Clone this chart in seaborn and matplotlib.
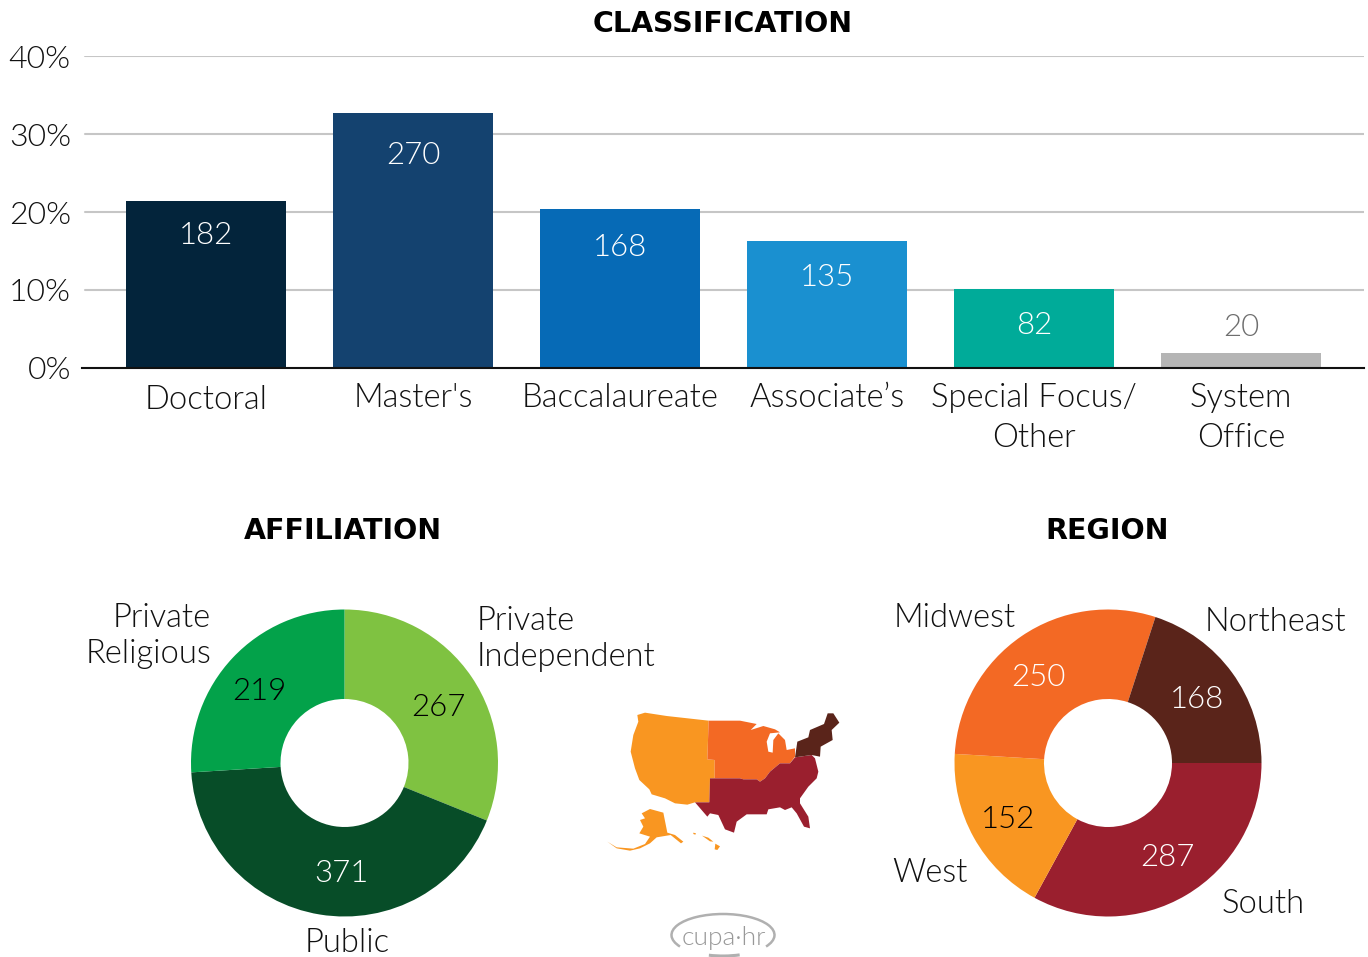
import matplotlib
matplotlib.use("Agg")
import matplotlib.pyplot as plt
from matplotlib.patches import Arc, Polygon
import pandas as pd
import seaborn as sns

# Chart values
class_labels = ["Doctoral", "Master's", "Baccalaureate", "Associate’s", "Special Focus/\nOther", "System\nOffice"]
class_pct = [21.4, 32.7, 20.4, 16.3, 10.1, 1.9]
class_counts = [182, 270, 168, 135, 82, 20]
class_colors = ["#03243B", "#14426F", "#066AB6", "#1A90D0", "#00AB99", "#B5B5B5"]
pct_ticks = [0, 10, 20, 30, 40]

# donut slices are measured in degrees from the picture, the counts are what is printed on them
aff_counts = [267, 371, 219]
aff_degrees = [112, 154.5, 93.5]
aff_colors = ["#7FC241", "#074D28", "#03A24A"]
aff_number_colors = ["black", "white", "black"]

region_counts = [287, 152, 250, 168]
region_degrees = [118.6, 64.8, 104.6, 72]
region_colors = ["#9A1F2E", "#F99621", "#F36924", "#5A241A"]
region_number_colors = ["white", "black", "white", "white"]

W, H = 1368, 957
FONT = "Lato"
TEXT = "#111111"
LABEL_SIZE = 23.6
NUMBER_SIZE = 22.5

# Map outlines (crop pixels, see to_px)
west = [(112, 45), (135, 38), (200, 48), (326, 62), (322, 178), (344, 180), (344, 235), (330, 235), (328, 307),
        (285, 307), (262, 314), (225, 310), (195, 295), (155, 283), (148, 268), (118, 240), (105, 205), (92, 155),
        (100, 105), (115, 65)]
midwest = [(326, 62), (420, 62), (470, 72), (452, 90), (490, 78), (525, 88), (540, 97), (510, 100), (500, 125),
           (505, 155), (518, 158), (520, 120), (535, 100), (555, 120), (560, 150), (585, 145), (585, 170), (570, 190),
           (540, 190), (510, 215), (495, 235), (480, 245), (470, 238), (430, 238), (420, 235), (344, 235), (344, 180),
           (322, 178)]
south = [(330, 235), (420, 235), (430, 238), (470, 238), (480, 245), (495, 235), (510, 215), (540, 190), (570, 190),
         (585, 172), (635, 165), (645, 175), (655, 215), (650, 235), (625, 260), (600, 295), (600, 310), (625, 350),
         (630, 385), (612, 380), (590, 340), (575, 322), (555, 330), (540, 322), (505, 328), (500, 343), (440, 343),
         (410, 365), (402, 398), (375, 388), (355, 345), (330, 340), (322, 350), (285, 307), (328, 307)]
northeast = [(585, 172), (592, 125), (625, 112), (630, 90), (672, 72), (683, 40), (700, 40), (718, 68), (695, 90),
             (698, 120), (662, 140), (660, 170), (635, 165)]
alaska = [(150, 327), (190, 338), (202, 398), (225, 405), (250, 425), (243, 430), (212, 405), (170, 412), (150, 430),
          (120, 445), (90, 452), (50, 445), (22, 425), (50, 442), (100, 446), (135, 432), (150, 410), (118, 400),
          (130, 380), (120, 360), (135, 355), (125, 340)]
hawaii_a = [(280, 398), (288, 400), (286, 404), (280, 402)]
hawaii_b = [(306, 407), (325, 413), (340, 425), (330, 424)]
hawaii_c = [(346, 431), (360, 439), (352, 450), (344, 448)]


def to_px(points):
    return [(600 + x / 3, 700 + y / 3) for x, y in points]


def axes_from_px(left, top, right, bottom):
    return fig.add_axes([left / W, 1 - bottom / H, (right - left) / W, (bottom - top) / H])


sns.set_theme(style="white")
plt.rcParams["font.family"] = [FONT, "DejaVu Sans"]
plt.rcParams["font.weight"] = 300

fig = plt.figure(figsize=(W / 100, H / 100), dpi=100)

# Classification bars
ax = axes_from_px(82, 56, 1364, 368)
df = pd.DataFrame({"label": class_labels, "pct": class_pct})
for t in pct_ticks[1:]:
    ax.axhline(t, xmin=3 / 1282, color="#C6C6C6", lw=1.5, zorder=0)
sns.barplot(data=df, x="label", y="pct", hue="label", palette=class_colors, saturation=1, width=0.773,
            legend=False, ax=ax, zorder=2, linewidth=0)
ax.set_xlim(-0.6, 5.594)
ax.set_ylim(0, 40)
ax.set_xlabel("")
ax.set_ylabel("")
ax.set_yticks(pct_ticks)
ax.set_yticklabels([f"{t}%" for t in pct_ticks])
ax.tick_params(axis="y", length=0, pad=8, labelsize=23, labelcolor=TEXT)
ax.tick_params(axis="x", length=0, pad=10.5, labelsize=LABEL_SIZE, labelcolor=TEXT)
for tl in ax.get_xticklabels():
    tl.set_linespacing(1.43)
ax.xaxis.get_major_ticks()[0].set_pad(12)
sns.despine(ax=ax, left=True, right=True, top=True)
ax.spines["bottom"].set_color("#111111")
ax.spines["bottom"].set_linewidth(1.5)
ax.spines["bottom"].set_zorder(3)

# Donuts
ax_aff = axes_from_px(191, 609.5, 498, 916.5)
ax_aff.pie(aff_degrees, colors=aff_colors, startangle=90, counterclock=False, radius=1,
           wedgeprops={"width": 1 - 64 / 153.5, "linewidth": 0})
ax_aff.set_xlim(-1, 1)
ax_aff.set_ylim(-1, 1)

ax_reg = axes_from_px(954.5, 609.5, 1261.5, 916.5)
ax_reg.pie(region_degrees, colors=region_colors, startangle=0, counterclock=False, radius=1,
           wedgeprops={"width": 1 - 64 / 153.5, "linewidth": 0})
ax_reg.set_xlim(-1, 1)
ax_reg.set_ylim(-1, 1)

# Everything else goes on a transparent layer measured in picture pixels
top = axes_from_px(0, 0, W, H)
top.set_xlim(0, W)
top.set_ylim(H, 0)
top.axis("off")
top.patch.set_alpha(0)

title_font = {"family": "DejaVu Sans", "fontweight": "bold", "fontsize": 20.5, "color": "black"}
top.text(723, 24, "CLASSIFICATION", ha="center", va="center", **title_font)
top.text(343, 531, "AFFILIATION", ha="center", va="center", **title_font)
top.text(1107, 531, "REGION", ha="center", va="center", **title_font)

# Counts on the bars
class_number_x = [206, 413, 620, 827, 1034, 1241]
class_number_y = [235, 156, 247, 277, 325, 328]
for i, n in enumerate(class_counts):
    c = "#6E6E6E" if class_pct[i] < 5 else "white"
    top.text(class_number_x[i], class_number_y[i], str(n), color=c, ha="center", va="center", fontsize=NUMBER_SIZE)

aff_number_pos = [(438, 707), (341, 874), (259, 691)]
for n, c, (x, y) in zip(aff_counts, aff_number_colors, aff_number_pos):
    top.text(x, y, str(n), color=c, ha="center", va="center", fontsize=NUMBER_SIZE)
region_number_pos = [(1167, 857), (1008, 819), (1038, 678), (1197, 700)]
for n, c, (x, y) in zip(region_counts, region_number_colors, region_number_pos):
    top.text(x, y, str(n), color=c, ha="center", va="center", fontsize=NUMBER_SIZE)

top.text(211, 636, "Private\nReligious", ha="right", va="center", fontsize=LABEL_SIZE, color=TEXT, linespacing=1.23,
         multialignment="right")
top.text(477, 639, "Private\nIndependent", ha="left", va="center", fontsize=LABEL_SIZE, color=TEXT, linespacing=1.23)
top.text(347, 943, "Public", ha="center", va="center", fontsize=LABEL_SIZE, color=TEXT)
top.text(955, 618, "Midwest", ha="center", va="center", fontsize=LABEL_SIZE, color=TEXT)
top.text(1275, 622, "Northeast", ha="center", va="center", fontsize=LABEL_SIZE, color=TEXT)
top.text(930, 873, "West", ha="center", va="center", fontsize=LABEL_SIZE, color=TEXT)
top.text(1263, 904, "South", ha="center", va="center", fontsize=LABEL_SIZE, color=TEXT)

# US map
for shape, color in [(west, region_colors[1]), (midwest, region_colors[2]), (south, region_colors[0]),
                     (northeast, region_colors[3]), (alaska, region_colors[1]), (hawaii_a, region_colors[1]),
                     (hawaii_b, region_colors[1]), (hawaii_c, region_colors[1])]:
    top.add_patch(Polygon(to_px(shape), closed=True, facecolor=color, edgecolor="none"))

# Logo
top.text(724, 938, "cupa·hr", ha="center", va="center", fontsize=19, color="#999999")
top.add_patch(Arc((723, 935), 103, 42, theta1=165, theta2=375, color="#B0B0B0", lw=1.8))
top.add_patch(Arc((723, 935), 103, 42, theta1=50, theta2=125, color="#B0B0B0", lw=2.2))

fig.savefig("out.png", dpi=100)
